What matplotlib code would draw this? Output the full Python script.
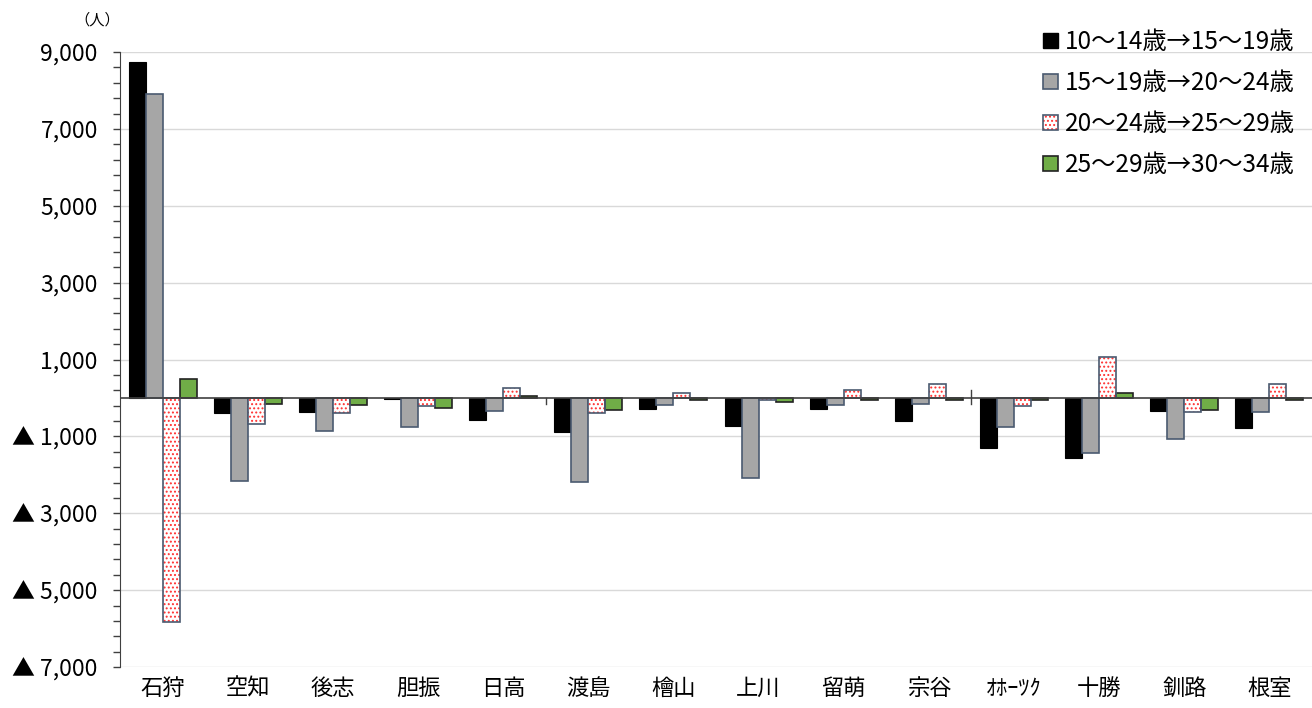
import numpy as np
import matplotlib
matplotlib.use('Agg')
import matplotlib.pyplot as plt
from matplotlib.patches import Patch

plt.rcParams['font.family'] = ['Noto Sans CJK JP', 'DejaVu Sans']
plt.rcParams['hatch.linewidth'] = 0.9

regions = ['石狩', '空知', '後志', '胆振', '日高', '渡島', '檜山', '上川',
           '留萌', '宗谷', 'ｵﾎｰﾂｸ', '十勝', '釧路', '根室']
series_names = ['10～14歳→15～19歳', '15～19歳→20～24歳',
                '20～24歳→25～29歳', '25～29歳→30～34歳']
s1 = [8750, -400, -370, -20, -585, -890, -300, -740, -300, -600, -1305, -1565, -350, -775]
s2 = [7900, -2165, -870, -760, -345, -2190, -195, -2085, -175, -150, -760, -1420, -1080, -370]
s3 = [-5840, -670, -395, -215, 265, -385, 135, -60, 195, 350, -215, 1060, -375, 350]
s4 = [500, -150, -195, -255, 45, -325, -65, -115, -45, -55, -65, 135, -325, -45]
ytick_vals = [9000, 7000, 5000, 3000, 1000, -1000, -3000, -5000, -7000]
ytick_labels = ['9,000', '7,000', '5,000', '3,000', '1,000',
                '▲ 1,000', '▲ 3,000', '▲ 5,000', '▲ 7,000']

slate = '#4A5A70'
fig = plt.figure(figsize=(13.12, 7.08), dpi=100)
ax = fig.add_axes([120/1312, 41/708, 1192/1312, 615/708])

x = np.arange(len(regions))
w = 0.2
ax.bar(x - 1.5*w, s1, w, color='black', edgecolor='black', lw=0.8, zorder=3)
ax.bar(x - 0.5*w, s2, w, color='#A6A6A6', edgecolor=slate, lw=1.2, zorder=3)
ax.bar(x + 0.5*w, s3, w, color='white', edgecolor='#FF3030', hatch='....', lw=0, zorder=3)
ax.bar(x + 0.5*w, s3, w, color='none', edgecolor=slate, lw=1.2, zorder=4)
ax.bar(x + 1.5*w, s4, w, color='#70AD47', edgecolor='#222222', lw=1.2, zorder=3)

ax.axhline(0, color='#404040', lw=1.2, zorder=5)
# small marks at two category boundaries on the zero line
ax.plot([4.5, 4.5], [0, -160], color='#404040', lw=1, zorder=5)
ax.plot([9.5, 9.5], [200, -160], color='#404040', lw=1, zorder=5)

ax.set_xlim(-0.5, len(regions) - 0.5)
ax.set_ylim(-7000, 9000)
ax.set_yticks(np.arange(-7000, 9001, 400), minor=True)
ax.set_yticks(ytick_vals)
ax.set_yticklabels(ytick_labels, fontsize=16.5)
ax.tick_params(axis='y', which='both', length=5, color='#404040', width=1)
ax.tick_params(axis='y', which='major', pad=11)
ax.set_xticks(x)
ax.set_xticklabels(regions, fontsize=16)
ax.tick_params(axis='x', length=0, pad=7)
ax.grid(axis='y', color='#D9D9D9', lw=1, zorder=0)
ax.set_axisbelow(True)
for s in ['top', 'right', 'bottom']:
    ax.spines[s].set_visible(False)
ax.spines['left'].set_color('#404040')

fig.text(97/1312, 1 - 20/708, '（人）', fontsize=11, ha='center', va='center')

handles = [
    Patch(facecolor='black', edgecolor='black'),
    Patch(facecolor='#A6A6A6', edgecolor=slate, lw=1.2),
    (Patch(facecolor='white', edgecolor='#FF3030', hatch='....', lw=0),
     Patch(facecolor='none', edgecolor=slate, lw=1.2)),
    Patch(facecolor='#70AD47', edgecolor='#222222', lw=1.2),
]
ax.legend(handles, series_names, loc='upper right', bbox_to_anchor=(1.0, 1.065),
          frameon=False, fontsize=17.5, handlelength=0.6, handleheight=0.6,
          handletextpad=0.3, labelspacing=0.62, borderpad=0.2)

fig.savefig('out.png', dpi=100)
